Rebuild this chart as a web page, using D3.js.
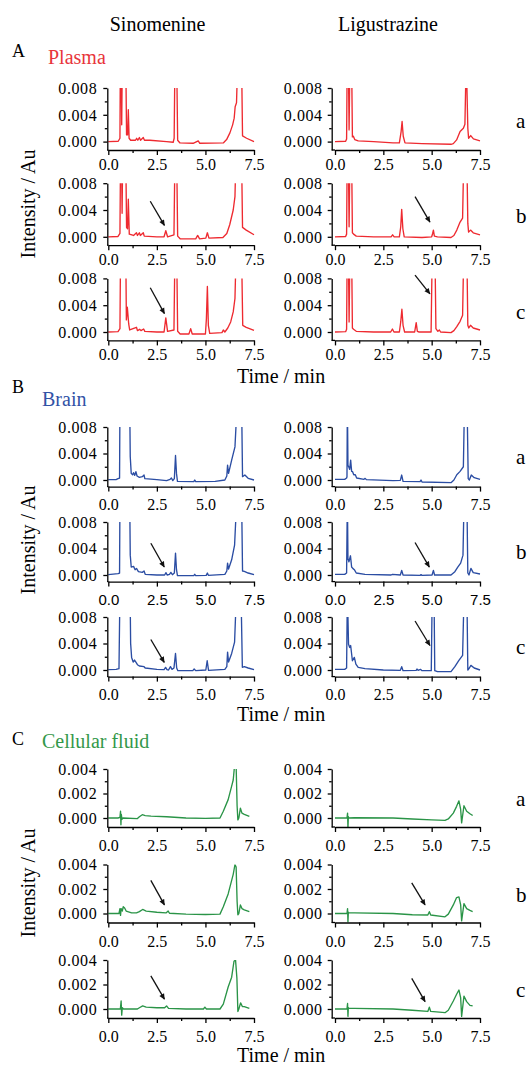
<!DOCTYPE html>
<html><head><meta charset="utf-8">
<script src="https://cdn.jsdelivr.net/npm/d3@7"></script>
<style>body{margin:0;background:#fff} svg{display:block}</style>
</head><body>
<svg id="c" width="529" height="1066"></svg>
<script>
// ---------- categories / labels ----------
const columns = ["Sinomenine", "Ligustrazine"];
const rowLabels = ["a", "b", "c"];
const sectionLetters = ["A", "B", "C"];
const sectionNames = ["Plasma", "Brain", "Cellular fluid"];
const xTitle = "Time / min";
const yTitle = "Intensity / Au";

// ---------- tick values ----------
const xTicks = [0, 2.5, 5, 7.5];
const xMinorTicks = [1.25, 3.75, 6.25];
const yTicksPB = [0, 0.004, 0.008];
const yMinorPB = [0.002, 0.006];
const yTicksC = [0, 0.002, 0.004];
const yMinorC = [0.001, 0.003];

// ---------- series: [time (min), intensity (Au)] ----------
const plasmaSinA = [[0,0],[0.51,0.00005],[0.6,0.0005],[0.62,0.012],[0.66,0.012],[0.69,0.0025],[0.72,0.012],[0.9,0.012],[0.94,0.001],[0.99,0.001],[1.03,0.00475],[1.07,0.0005],[1.15,0.0002],[1.4,0.0002],[1.46,0.0005],[1.52,0.0002],[1.6,0.0006],[1.66,0.0002],[1.8,0.0006],[1.86,0.0002],[2.14,0.0002],[3.0,0],[3.34,-0.0001],[3.39,0.0005],[3.43,0.012],[3.52,0.012],[3.57,0.0002],[3.69,-0.0002],[4.37,-0.00025],[4.63,0.0001],[4.71,-0.00025],[5.92,-0.0002],[6.09,0.0003],[6.26,0.0013],[6.4,0.0025],[6.48,0.0035],[6.53,0.0052],[6.6,0.0058],[6.66,0.012],[6.86,0.012],[6.91,0.00085],[7.12,0.0005],[7.5,0]];
const plasmaSinB = [[0,0],[0.5,0.00005],[0.6,0.0005],[0.63,0.012],[0.68,0.012],[0.71,0.0035],[0.74,0.012],[0.9,0.012],[0.94,0.0014],[0.99,0.0012],[1.03,0.0056],[1.08,0.0004],[1.3,0.0002],[1.45,0.0006],[1.5,0.0002],[1.6,0.0006],[1.65,0.0002],[1.8,0.0006],[1.85,0.0001],[2.5,0],[2.87,0],[2.96,0.0009],[3.05,0],[3.38,0.0003],[3.43,0.012],[3.52,0.012],[3.57,0.0001],[3.7,-0.0003],[4.5,-0.0003],[4.6,0.0002],[4.7,-0.0003],[5.02,-0.0002],[5.1,0.0006],[5.18,-0.0002],[5.9,-0.0001],[6.1,0.0005],[6.25,0.0018],[6.43,0.004],[6.52,0.006],[6.57,0.012],[6.86,0.012],[6.91,0.0014],[7.1,0.001],[7.5,0.0003]];
const plasmaSinC = [[0,0],[0.5,0.00005],[0.6,0.0005],[0.63,0.012],[0.9,0.012],[0.93,0.0018],[0.98,0.0037],[1.05,0.0012],[1.1,0.0003],[1.45,0.0007],[1.5,0.0002],[1.62,0.0004],[1.68,0.0002],[1.82,0.00045],[1.88,0.0001],[2.5,0],[2.87,0],[2.96,0.0021],[3.05,0.0001],[3.38,0.0003],[3.43,0.012],[3.52,0.012],[3.57,0.0001],[3.7,-0.0003],[4.15,-0.0003],[4.24,0.0005],[4.32,-0.0003],[5.0,-0.0003],[5.05,0.002],[5.1,0.0068],[5.15,0.001],[5.22,-0.0002],[5.85,-0.0001],[5.92,0.0003],[6.0,0],[6.15,0.0006],[6.3,0.0015],[6.43,0.003],[6.52,0.005],[6.58,0.012],[6.86,0.012],[6.92,0.001],[7.1,0.0007],[7.5,0.00025]];
const plasmaLigA = [[0,0],[0.55,0.00005],[0.6,0.0004],[0.63,0.012],[0.69,0.012],[0.73,0.00175],[0.77,0.012],[0.86,0.012],[0.9,0.0007],[0.95,0.0008],[1.02,0.0003],[1.2,0.0001],[2.0,0],[3.0,-0.0002],[3.33,-0.0002],[3.42,0.0015],[3.47,0.003],[3.53,0.0008],[3.62,-0.0002],[4.5,-0.0003],[6.0,-0.0004],[6.12,-0.0003],[6.29,0.00025],[6.47,0.0015],[6.64,0.002],[6.72,0.0026],[6.76,0.0085],[6.82,0.0085],[6.87,0.002],[6.91,0.0005],[7.02,0.0009],[7.16,0.0004],[7.5,0.0001]];
const plasmaLigB = [[0,0],[0.55,0.00005],[0.6,0.0004],[0.63,0.012],[0.69,0.012],[0.73,0.0015],[0.77,0.012],[0.86,0.012],[0.9,0.0006],[0.96,0.0004],[1.1,0.0001],[2.0,0],[2.9,0],[2.98,0.0003],[3.06,0],[3.33,0],[3.4,0.0015],[3.45,0.0041],[3.51,0.0012],[3.58,0],[4.5,-0.0001],[5.0,0],[5.05,0.0005],[5.09,0.001],[5.14,0.0001],[5.3,0],[6.0,-0.0001],[6.15,0.0002],[6.3,0.001],[6.47,0.0022],[6.6,0.0028],[6.66,0.012],[6.82,0.012],[6.87,0.002],[6.91,0.0007],[7.01,0.001],[7.15,0.0006],[7.5,0.0003]];
const plasmaLigC = [[0,0],[0.55,0.00005],[0.6,0.0004],[0.63,0.012],[0.69,0.012],[0.73,0.0015],[0.77,0.012],[0.86,0.012],[0.9,0.0006],[0.96,0.0004],[1.1,0.0001],[2.0,0],[2.88,0],[2.97,0.00045],[3.05,0],[3.33,0],[3.4,0.0015],[3.46,0.0034],[3.52,0.001],[3.6,0],[4.12,0],[4.2,0.0014],[4.26,0.0001],[4.35,0],[4.97,0],[5.03,0.012],[5.17,0.012],[5.22,0.0005],[5.32,0.0001],[5.4,0.0003],[5.46,0],[6.0,-0.0001],[6.15,0.0002],[6.3,0.0008],[6.47,0.0016],[6.6,0.0025],[6.66,0.012],[6.82,0.012],[6.87,0.001],[6.92,0.0006],[7.01,0.001],[7.15,0.0006],[7.5,0.0003]];

const brainSinA = [[0,0.00005],[0.4,0.00005],[0.5,0.0002],[0.58,0.0003],[0.6,0.012],[1.1,0.012],[1.13,0.0035],[1.18,0.001],[1.25,0.0008],[1.3,0.0011],[1.36,0.0007],[1.42,0.00125],[1.48,0.0006],[1.6,0.0004],[1.75,0.0005],[1.84,0.00075],[1.88,0.0002],[2.5,0.00005],[3.0,-0.0001],[3.18,0.0001],[3.25,0.0003],[3.32,-0.0001],[3.4,0.0002],[3.46,0.0037],[3.51,0.001],[3.56,-0.0002],[4.4,-0.00025],[4.45,0],[4.5,-0.00025],[5.5,-0.0002],[6.0,0],[6.1,0.0006],[6.14,0.00225],[6.19,0.001],[6.35,0.003],[6.52,0.005],[6.64,0.012],[6.86,0.012],[6.91,0.0005],[7.03,0.00075],[7.2,0.00025],[7.5,0]];
const brainSinB = [[0,0.00005],[0.5,0.0002],[0.58,0.0003],[0.6,0.012],[1.1,0.012],[1.13,0.003],[1.18,0.0012],[1.3,0.0013],[1.38,0.0008],[1.45,0.001],[1.55,0.0005],[1.75,0.0004],[1.84,0.0006],[1.9,0.0001],[2.5,0],[2.9,0],[2.97,0.00035],[3.03,0],[3.15,0.0001],[3.22,0.0004],[3.3,0.00005],[3.4,0.0003],[3.46,0.0033],[3.51,0.0008],[3.56,-0.0001],[4.4,-0.0001],[4.45,0.0001],[4.5,-0.0001],[5.04,-0.00005],[5.1,0.0003],[5.15,-0.00005],[6.0,0.0001],[6.1,0.0006],[6.14,0.0018],[6.19,0.0009],[6.35,0.0023],[6.5,0.0045],[6.62,0.012],[6.86,0.012],[6.91,0.0006],[7.0,0.00055],[7.2,0.0003],[7.5,0.00005]];
const brainSinC = [[0,0.00005],[0.4,0.0001],[0.55,0.0002],[0.6,0.012],[1.12,0.012],[1.15,0.004],[1.2,0.0019],[1.28,0.0012],[1.35,0.0015],[1.42,0.0012],[1.5,0.0008],[1.6,0.0006],[1.84,0.0005],[1.9,0.0003],[2.5,0.0001],[2.87,0.00005],[2.95,0.0004],[3.02,0.00005],[3.1,0],[3.2,0.0005],[3.28,0.0001],[3.38,0.0003],[3.46,0.0025],[3.52,0.0003],[3.58,-0.0001],[4.35,-0.0001],[4.42,0.00015],[4.5,-0.0001],[5.02,0],[5.09,0.0014],[5.16,-0.00005],[6.0,0.0001],[6.1,0.0005],[6.14,0.0027],[6.19,0.0012],[6.35,0.0025],[6.5,0.0042],[6.6,0.012],[6.83,0.012],[6.9,0.0004],[7.0,0.0005],[7.2,0.0003],[7.5,0.00005]];
const brainLigA = [[0,0.0001],[0.5,0.0001],[0.6,0.0003],[0.62,0.0005],[0.64,0.012],[0.67,0.0022],[0.71,0.002],[0.76,0.0016],[0.81,0.003],[0.86,0.0013],[0.91,0.00125],[0.97,0.0008],[1.05,0.0008],[1.12,0.0003],[1.5,0.0001],[1.56,0.00025],[1.62,0.00005],[3.0,-0.0001],[3.38,-0.00005],[3.45,0.00075],[3.52,-0.0002],[4.4,-0.00025],[4.45,0],[4.5,-0.0003],[6.0,-0.0004],[6.15,0],[6.3,0.0008],[6.47,0.0013],[6.64,0.002],[6.7,0.012],[6.83,0.012],[6.89,0.0002],[6.95,0],[7.05,0.00075],[7.2,0.00035],[7.5,0.0001]];
const brainLigB = [[0,0.0001],[0.5,0.0001],[0.6,0.0003],[0.64,0.012],[0.67,0.0025],[0.72,0.002],[0.8,0.0029],[0.86,0.0012],[0.92,0.001],[1.0,0.0008],[1.1,0.0003],[1.55,0.0001],[2.9,0],[2.97,0.0001],[3.38,0],[3.45,0.0007],[3.52,0],[4.4,-0.00005],[4.45,0.00005],[4.5,-0.00005],[5.02,0],[5.09,0.0007],[5.15,0],[6.0,0],[6.2,0.0005],[6.35,0.0012],[6.5,0.0018],[6.62,0.003],[6.68,0.012],[6.82,0.012],[6.87,0.0003],[6.93,0],[7.03,0.001],[7.15,0.00035],[7.5,0.00015]];
const brainLigC = [[0,0.0001],[0.5,0.0001],[0.6,0.0003],[0.64,0.012],[0.7,0.0039],[0.76,0.0034],[0.81,0.0037],[0.9,0.0014],[1.0,0.0019],[1.08,0.0009],[1.2,0.0004],[1.55,0.0002],[2.5,0],[3.38,-0.00005],[3.45,0.0005],[3.52,-0.0001],[4.2,-0.00005],[4.24,0.00015],[4.3,-0.00005],[4.42,0.0001],[4.5,-0.0001],[4.98,-0.0001],[5.03,0.012],[5.12,0.012],[5.16,-0.0001],[5.3,-0.00025],[6.0,-0.00025],[6.2,0.0005],[6.4,0.0014],[6.6,0.0022],[6.68,0.012],[6.82,0.012],[6.87,0],[6.95,0.0003],[7.03,0.0007],[7.2,0.0003],[7.5,0]];

const cellSinA = [[0,0],[0.5,0],[0.6,0.00005],[0.63,0.00055],[0.65,-0.00055],[0.67,0.0003],[0.7,-0.0001],[0.75,0],[1.5,-0.00005],[1.6,0.0001],[1.75,0.00027],[1.9,0.0002],[2.2,0.00015],[3.0,0.0001],[4.0,0],[5.0,-0.00003],[5.75,0],[5.92,0.00055],[6.17,0.0015],[6.35,0.0026],[6.43,0.0031],[6.5,0.0043],[6.58,0.0043],[6.63,0.001],[6.67,-0.00015],[6.72,0],[6.8,0.0008],[6.88,0.0004],[7.0,0.0003],[7.26,0.00014]];
const cellSinB = [[0,0],[0.55,0],[0.6,0.0004],[0.63,-0.00015],[0.66,0.0004],[0.72,0.0002],[0.77,0.00055],[0.84,0.00045],[0.92,0.0002],[1.2,0.00005],[1.45,0.00005],[1.6,0.00015],[1.77,0.00033],[1.95,0.0002],[2.5,0.0001],[2.97,0.00005],[3.08,0.0002],[3.15,0.00002],[4.0,-0.00005],[5.0,-0.00008],[5.75,-0.00005],[5.92,0.00055],[6.17,0.0016],[6.35,0.0027],[6.43,0.0032],[6.52,0.004],[6.58,0.0038],[6.63,0.001],[6.67,-0.0001],[6.72,0],[6.8,0.0007],[6.88,0.0004],[7.0,0.0003],[7.26,0.00015]];
const cellSinC = [[0,0],[0.62,0],[0.66,0.00065],[0.69,-0.0005],[0.72,0.0001],[0.78,0],[1.5,0],[1.6,0.0001],[1.77,0.00025],[1.95,0.00015],[2.5,0.0001],[2.9,0.0001],[3.0,0.00025],[3.1,0.00005],[4.0,0],[4.9,0],[4.97,0.00015],[5.05,0],[5.75,0],[5.92,0.0004],[6.17,0.0018],[6.35,0.0026],[6.47,0.0039],[6.55,0.004],[6.62,0.0025],[6.67,-0.0002],[6.72,0],[6.81,0.0005],[6.9,0.0002],[7.0,0.0002],[7.26,0.00005]];
const cellLigA = [[0,0],[0.62,0],[0.65,0.0004],[0.67,-0.0008],[0.69,0.0001],[0.72,0],[1.0,0.00002],[3.0,0],[4.0,-0.00008],[5.0,-0.00015],[5.69,-0.0002],[5.86,-0.00008],[6.12,0.0004],[6.29,0.00095],[6.41,0.0014],[6.5,0.0007],[6.55,-0.0004],[6.67,0.001],[6.81,0.00055],[6.98,0.00035],[7.12,0.0002]];
const cellLigB = [[0,0],[0.62,0],[0.65,0.0004],[0.67,-0.0007],[0.69,0.0001],[0.72,0.00005],[1.0,0.00005],[3.0,0],[4.0,-0.0001],[4.8,-0.00012],[4.88,0.00015],[4.95,-0.00012],[5.69,-0.00027],[5.86,-0.00005],[6.12,0.0007],[6.29,0.0013],[6.41,0.00135],[6.5,0.0007],[6.55,-0.0006],[6.67,0.0008],[6.81,0.0004],[6.98,0.00025],[7.12,0.00015]];
const cellLigC = [[0,0],[0.62,0],[0.65,0.00045],[0.67,-0.0006],[0.69,0.0001],[0.72,0.00005],[1.0,0.00005],[3.0,0],[4.0,-0.0001],[4.8,-0.0002],[4.88,0.00015],[4.95,-0.0002],[5.69,-0.0003],[5.86,-0.0001],[6.12,0.00065],[6.29,0.0012],[6.41,0.00155],[6.5,0.0009],[6.55,-0.0006],[6.67,0.00105],[6.81,0.0006],[6.98,0.0003],[7.12,0.00025]];

// ---------- arrow annotations: [section, row, column, fromTime, fromValue, toTime, toValue] ----------
const arrows = [
  [0,1,0, 2.16,0.0053, 2.89,0.0017],
  [0,2,0, 2.16,0.0066, 2.89,0.00275],
  [0,1,1, 4.14,0.0060, 4.91,0.0022],
  [0,2,1, 4.14,0.0085, 4.91,0.0057],
  [1,1,0, 2.19,0.0048, 2.88,0.0012],
  [1,2,0, 2.19,0.0046, 2.88,0.00115],
  [1,1,1, 4.14,0.0049, 4.88,0.0012],
  [1,2,1, 4.14,0.0074, 4.91,0.0037],
  [2,1,0, 2.19,0.0027, 2.89,0.0007],
  [2,2,0, 2.19,0.0027, 2.89,0.0008],
  [2,1,1, 3.97,0.0025, 4.66,0.0007],
  [2,2,1, 3.97,0.0025, 4.66,0.0006]
];

// ---------- configuration ----------
const traces = [
  [[plasmaSinA, plasmaLigA], [plasmaSinB, plasmaLigB], [plasmaSinC, plasmaLigC]],
  [[brainSinA, brainLigA], [brainSinB, brainLigB], [brainSinC, brainLigC]],
  [[cellSinA, cellLigA], [cellSinB, cellLigB], [cellSinC, cellLigC]]
];
const lineColors = ["#ee2a30", "#2b4da3", "#2a9447"];
const nameColors = ["#e8353b", "#3152a6", "#33984a"];
const yMaxes = [0.008, 0.008, 0.004];
const yMajor = [yTicksPB, yTicksPB, yTicksC];
const yMinor = [yMinorPB, yMinorPB, yMinorC];

const layout = [
  {top:88,  pitch:95.2, h:53.6, gap:8.4, xlab:20, letterY:57,  nameY:64,  nameX:48, titleY:204, timeY:383,  rowDy:-13.5},
  {top:427, pitch:95,   h:53,   gap:6.6, xlab:23, letterY:393, nameY:406, nameX:42, titleY:540, timeY:721,  rowDy:-16.5},
  {top:769, pitch:95.5, h:49,   gap:9,   xlab:24, letterY:745, nameY:748, nameX:42, titleY:883, timeY:1062, rowDy:-12}
];
const cols = [
  {axisX:107.3, x0:108.3, x1:254, labX:-10},
  {axisX:331.7, x0:335,   x1:480, labX:-9}
];
const SERIF = "'Liberation Serif','Times New Roman',serif";
const SANS = "'Liberation Sans',Arial,sans-serif";

const svg = d3.select("#c");
const defs = svg.append("defs");
defs.append("marker").attr("id","ah").attr("viewBox","0 0 10 10")
  .attr("refX",9).attr("refY",5).attr("markerWidth",7).attr("markerHeight",6)
  .attr("markerUnits","userSpaceOnUse").attr("orient","auto")
  .append("path").attr("d","M0,0.5 L10,5 L0,9.5 Z").attr("fill","#111");

// column headers
[157.5, 388].forEach((cx, i) => {
  svg.append("text").attr("x", cx).attr("y", 31).attr("text-anchor","middle")
    .attr("font-family", SERIF).attr("font-size", 20).text(columns[i]);
});

const fmtY = d3.format(".3f"), fmtX = d3.format(".1f");

layout.forEach((L, s) => {
  svg.append("text").attr("x", 12).attr("y", L.letterY).attr("font-family", SERIF)
    .attr("font-size", 18).text(sectionLetters[s]);
  svg.append("text").attr("x", L.nameX).attr("y", L.nameY).attr("font-family", SERIF)
    .attr("font-size", 20).attr("fill", nameColors[s]).text(sectionNames[s]);
  svg.append("text").attr("transform", `translate(35,${L.titleY}) rotate(-90)`)
    .attr("text-anchor","middle").attr("font-family", SERIF).attr("font-size", 20).text(yTitle);
  svg.append("text").attr("x", 237).attr("y", L.timeY).attr("font-family", SERIF)
    .attr("font-size", 20).text(xTitle);

  for (let r = 0; r < 3; r++) {
    const top = L.top + r * L.pitch;
    const zero = top + L.h;
    const bottom = zero + L.gap;
    const yMin = -L.gap / L.h * yMaxes[s];
    const sansTicks = (s === 1 && r === 1);

    svg.append("text").attr("x", 516).attr("y", zero + L.rowDy).attr("font-family", SERIF)
      .attr("font-size", 21).text(rowLabels[r]);

    cols.forEach((C, c) => {
      const x = d3.scaleLinear().domain([0, 7.5]).range([C.x0, C.x1]);
      const y = d3.scaleLinear().domain([yMin, yMaxes[s]]).range([bottom, top]);
      const id = `clip${s}${r}${c}`;
      defs.append("clipPath").attr("id", id).append("rect")
        .attr("x", C.axisX).attr("y", top).attr("width", C.x1 - C.axisX + 1).attr("height", bottom - top);

      const g = svg.append("g");
      g.append("path").datum(traces[s][r][c])
        .attr("clip-path", `url(#${id})`)
        .attr("fill","none").attr("stroke", lineColors[s]).attr("stroke-width", 1.35)
        .attr("stroke-linejoin","round")
        .attr("d", d3.line().x(d => x(d[0])).y(d => y(d[1])));

      // y axis (major)
      const ya = g.append("g").attr("transform", `translate(${C.axisX},0)`)
        .call(d3.axisLeft(y).tickValues(yMajor[s]).tickSize(4).tickSizeOuter(0).tickFormat(fmtY));
      ya.selectAll("text").attr("x", C.labX).attr("dy","0.33em")
        .attr("font-family", SERIF).attr("font-size", 16).attr("letter-spacing", 0.6);
      // y minor
      const ym = g.append("g").attr("transform", `translate(${C.axisX},0)`)
        .call(d3.axisLeft(y).tickValues(yMinor[s]).tickSize(2.5).tickFormat(""));
      ym.select(".domain").remove();

      // x axis (major)
      const xa = g.append("g").attr("transform", `translate(0,${bottom})`)
        .call(d3.axisBottom(x).tickValues(xTicks).tickSize(5).tickSizeOuter(0).tickFormat(fmtX));
      xa.selectAll("text").attr("y", L.xlab).attr("dy", null)
        .attr("font-family", sansTicks ? SANS : SERIF).attr("font-size", sansTicks ? 15 : 16);
      const xm = g.append("g").attr("transform", `translate(0,${bottom})`)
        .call(d3.axisBottom(x).tickValues(xMinorTicks).tickSize(3).tickFormat(""));
      xm.select(".domain").remove();
      // join x axis to y axis line
      g.append("line").attr("x1", C.axisX).attr("x2", C.x0).attr("y1", bottom).attr("y2", bottom)
        .attr("stroke","#000").attr("stroke-width",1.3);

      [ya, ym, xa, xm].forEach(a => {
        a.attr("color", "#000");
        a.selectAll("path,line").attr("stroke-width", 1.3);
      });

      // arrows
      arrows.filter(a => a[0] === s && a[1] === r && a[2] === c).forEach(a => {
        g.append("line").attr("x1", x(a[3])).attr("y1", y(a[4]))
          .attr("x2", x(a[5])).attr("y2", y(a[6]))
          .attr("stroke","#111").attr("stroke-width",1.3).attr("marker-end","url(#ah)");
      });
    });
  }
});
</script>
</body></html>
